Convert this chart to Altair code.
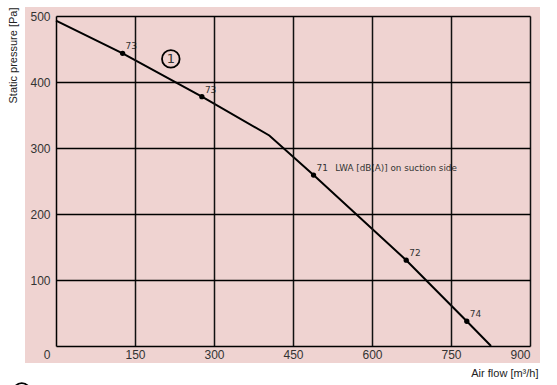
import altair as alt
import pandas as pd

# Fan curve (air flow m3/h vs static pressure Pa)
curve_flow = [0, 126.5, 277, 405, 489, 665, 780, 826]
curve_pressure = [493, 443.5, 377.7, 319, 259, 130, 37.5, 0]

# Sound-level marker points
pt_flow = [126.5, 277, 489, 665, 780]
pt_pressure = [443.5, 377.7, 259, 130, 37.5]
pt_label = ["73", "73", "71", "72", "74"]

x_ticks = [150, 300, 450, 600, 750, 900]
y_ticks = [100, 200, 300, 400, 500]

note_text = ["LWA [dB(A)] on suction side"]
note_flow = [530]
note_pressure = [269.7]

circle_flow = [218, -65]
circle_pressure = [435, -69.7]
circle_label = ["1", ""]

W, H = 474, 330
PINK = "#EFD3D1"

xs = alt.Scale(domain=[0, 900], nice=False, zero=False)
ys = alt.Scale(domain=[0, 500], nice=False, zero=False)

curve_df = pd.DataFrame({"flow": curve_flow, "pressure": curve_pressure})
pts_df = pd.DataFrame({"flow": pt_flow, "pressure": pt_pressure, "label": pt_label})
note_df = pd.DataFrame({"flow": note_flow, "pressure": note_pressure, "text": note_text})
circ_df = pd.DataFrame({"flow": circle_flow, "pressure": circle_pressure, "label": circle_label})
zero_df = pd.DataFrame({"flow": [0], "pressure": [0], "text": ["0"]})

bg = alt.Chart(pd.DataFrame({"a": [0]})).mark_rect(color=PINK).encode(
    x=alt.value(-31), x2=alt.value(W + 10), y=alt.value(-9), y2=alt.value(H + 17)
)

x_axis = alt.Axis(
    values=x_ticks, grid=True, gridColor="#111", gridWidth=1.5,
    domainColor="#000", domainWidth=1.5, ticks=False,
    labelFont="Liberation Sans", labelFontSize=12, labelColor="#333", labelPadding=3,
    title="Air flow [m³/h]", titleFont="Liberation Sans", titleFontSize=11,
    titleFontWeight="normal", titleColor="#222", titleX=482, titleY=27,
    titleAlign="right", titleBaseline="middle", zindex=1,
)
y_axis = alt.Axis(
    values=y_ticks, grid=True, gridColor="#000", gridWidth=1.5,
    domainColor="#000", domainWidth=1.5, ticks=False,
    labelFont="Liberation Sans", labelFontSize=12, labelColor="#333", labelPadding=6,
    title="Static pressure [Pa]", titleFont="Liberation Sans", titleFontSize=11,
    titleFontWeight="normal", titleColor="#222", titleAngle=270, titleX=-43, titleY=-9,
    titleAlign="right", titleBaseline="middle", zindex=1,
)

line = alt.Chart(curve_df).mark_line(color="#000", strokeWidth=2).encode(
    x=alt.X("flow:Q", scale=xs, axis=x_axis),
    y=alt.Y("pressure:Q", scale=ys, axis=y_axis),
)

points = alt.Chart(pts_df).mark_point(filled=True, color="#000", size=28, opacity=1).encode(
    x=alt.X("flow:Q", scale=xs), y=alt.Y("pressure:Q", scale=ys)
)

labels = alt.Chart(pts_df).mark_text(
    align="left", baseline="middle", dx=3, dy=-7, font="DejaVu Sans", fontSize=9, color="#333"
).encode(x=alt.X("flow:Q", scale=xs), y=alt.Y("pressure:Q", scale=ys), text="label:N")

note = alt.Chart(note_df).mark_text(
    align="left", baseline="middle", font="DejaVu Sans", fontSize=8.8, color="#333"
).encode(x=alt.X("flow:Q", scale=xs), y=alt.Y("pressure:Q", scale=ys), text="text:N")

circles = alt.Chart(circ_df).mark_point(
    shape="circle", filled=False, size=310, color="#000", strokeWidth=1.8, opacity=1
).encode(x=alt.X("flow:Q", scale=xs), y=alt.Y("pressure:Q", scale=ys))

circle_txt = alt.Chart(circ_df).mark_text(
    align="center", baseline="middle", font="DejaVu Sans", fontSize=13, color="#333"
).encode(x=alt.X("flow:Q", scale=xs), y=alt.Y("pressure:Q", scale=ys), text="label:N")

zero = alt.Chart(zero_df).mark_text(
    align="center", baseline="middle", dx=-9, dy=9, font="Liberation Sans", fontSize=12, color="#333"
).encode(x=alt.X("flow:Q", scale=xs), y=alt.Y("pressure:Q", scale=ys), text="text:N")

chart = alt.layer(bg, line, points, labels, note, circles, circle_txt, zero).properties(
    width=W, height=H,
    autosize=alt.AutoSizeParams(type="none"),
    padding={"left": 56, "top": 16, "right": 27, "bottom": 39},
).configure(background="white").configure_view(stroke="#000", strokeWidth=1.5)

chart.save("out.html", embed_options={"renderer": "svg", "actions": False})
